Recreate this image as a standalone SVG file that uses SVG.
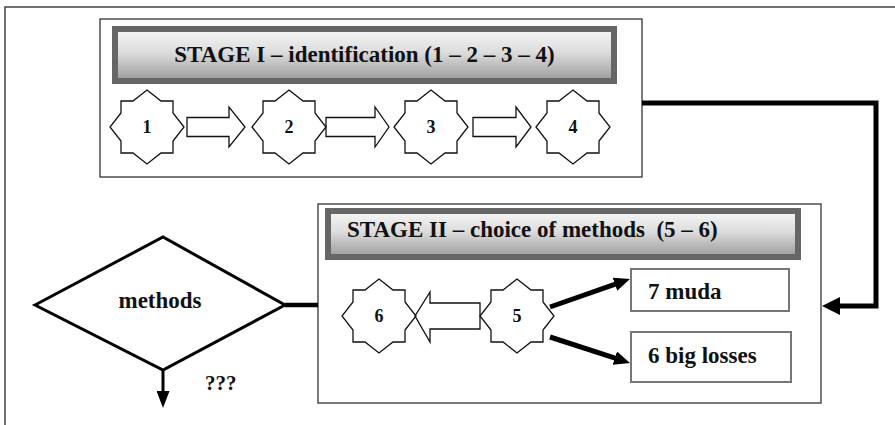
<svg xmlns="http://www.w3.org/2000/svg" xmlns:xlink="http://www.w3.org/1999/xlink" width="895" height="425" viewBox="0 0 895 425">
<style>
  .t { font-family: 'Liberation Serif', 'DejaVu Serif', serif; font-weight: 700; fill: #111; }
  .title { font-size: 23px; }
  .num { font-size: 18px; text-anchor: middle; }
  .lbl { font-size: 23px; }
  .frame { fill: none; stroke: #444; stroke-width: 1.5; }
  .stage { fill: #fff; stroke: #333; stroke-width: 1.3; }
  .bar { fill: url(#metal); stroke: #666; stroke-width: 6; }
  .star { fill: #fff; stroke: #111; stroke-width: 1.3; stroke-linejoin: miter; }
  .barrow { fill: none; stroke: #111; stroke-width: 1.3; }
  .box { fill: #fff; stroke: #777; stroke-width: 2; }
  .thick { fill: none; stroke: #000; stroke-width: 5; }
</style>
<defs>
  <linearGradient id="metal" x1="0" y1="0" x2="0" y2="1">
    <stop offset="0" stop-color="#f7f7f7"/>
    <stop offset="0.45" stop-color="#dcdcdc"/>
    <stop offset="1" stop-color="#9a9a9a"/>
  </linearGradient>
  <polygon id="star8" points="0,-37 14,-26 26,-26 26,-14 37,0 26,14 26,26 14,26 0,37 -14,26 -26,26 -26,14 -37,0 -26,-14 -26,-26 -14,-26"/>
  <marker id="ah" markerUnits="userSpaceOnUse" markerWidth="16" markerHeight="14" refX="2" refY="7" orient="auto">
    <path d="M0,0 L16,7 L0,14 z" fill="#000"/>
  </marker>
  <marker id="ahBig" markerUnits="userSpaceOnUse" markerWidth="18" markerHeight="18" refX="0" refY="9" orient="auto">
    <path d="M0,0 L18,9 L0,18 z" fill="#000"/>
  </marker>
  <marker id="ahDown" markerUnits="userSpaceOnUse" markerWidth="17" markerHeight="13" refX="0" refY="6.5" orient="auto">
    <path d="M0,0 L17,6.5 L0,13 z" fill="#000"/>
  </marker>
</defs>

<rect class="frame" x="5" y="7" width="900" height="430"/>

<g id="stage1">
  <rect class="stage" x="100" y="19" width="542" height="158"/>
  <rect class="bar" x="115" y="29" width="499" height="52"/>
  <text class="t title" x="364.5" y="62" text-anchor="middle" font-family="Liberation Serif, serif">STAGE I – identification (1 – 2 – 3 – 4)</text>
</g>

<g id="stage2">
  <rect class="stage" x="318" y="204" width="503" height="199"/>
  <rect class="bar" x="328" y="211" width="470" height="46"/>
  <text class="t title" x="347" y="237" xml:space="preserve">STAGE II – choice of methods  (5 – 6)</text>
</g>

<g id="star1"><use xlink:href="#star8" class="star" x="147" y="127"/><text class="t num" x="147" y="133">1</text></g>
<g id="star2"><use xlink:href="#star8" class="star" x="289" y="127"/><text class="t num" x="289" y="133">2</text></g>
<g id="star3"><use xlink:href="#star8" class="star" x="431" y="127"/><text class="t num" x="431" y="133">3</text></g>
<g id="star4"><use xlink:href="#star8" class="star" x="573" y="127"/><text class="t num" x="573" y="133">4</text></g>
<g id="star6"><use xlink:href="#star8" class="star" x="379" y="316"/><text class="t num" x="379" y="322">6</text></g>
<g id="star5"><use xlink:href="#star8" class="star" x="517" y="316"/><text class="t num" x="517" y="322">5</text></g>

<g id="box-muda">
  <rect class="box" x="631" y="269" width="158" height="42"/>
  <text class="t lbl" x="648" y="299">7 muda</text>
</g>
<g id="box-losses">
  <rect class="box" x="631" y="332" width="160" height="50"/>
  <text class="t lbl" x="648" y="363">6 big losses</text>
</g>

<g id="methods">
  <polygon points="35,305 163,237 285,305 163,370" fill="#fff" stroke="#000" stroke-width="3" stroke-linejoin="miter"/>
  <text class="t lbl" x="160" y="308" text-anchor="middle">methods</text>
  <text class="t" x="205" y="390" font-size="21">???</text>
</g>

<g id="connectors">
  <polygon class="barrow" points="187,117.5 229,117.5 229,107 245,127 229,147 229,136.5 187,136.5"/>
  <polygon class="barrow" points="326,117.5 375,117.5 375,107 389,127 375,147 375,136.5 326,136.5"/>
  <polygon class="barrow" points="473,117.5 516,117.5 516,107 531,127 516,147 516,136.5 473,136.5"/>
  <polygon class="barrow" points="480,303 430,303 430,292 415,316 430,342 430,329 480,329"/>
  <line class="thick" x1="550" y1="307" x2="616.8" y2="283.6" marker-end="url(#ah)"/>
  <line class="thick" x1="550" y1="337" x2="616.7" y2="358.7" marker-end="url(#ah)"/>
  <path class="thick" d="M642,103 H876 V306 H840" stroke-linejoin="miter" marker-end="url(#ahBig)"/>
  <line x1="285" y1="305" x2="318" y2="305" stroke="#000" stroke-width="4.5"/>
  <line x1="163" y1="370" x2="163" y2="391" stroke="#000" stroke-width="3" marker-end="url(#ahDown)"/>
</g>
</svg>
